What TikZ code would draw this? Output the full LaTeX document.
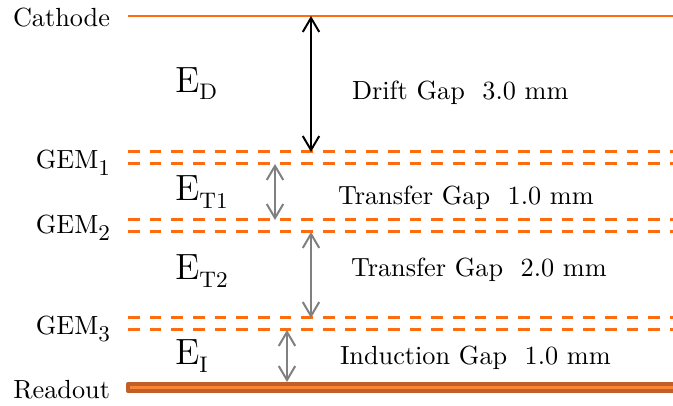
\documentclass[tikz,border=0pt]{standalone}
\usepackage{amsmath}
\usepackage{tikz}
\usetikzlibrary{arrows.meta}

\newcommand{\lowsub}[3]{#1\raisebox{-#3}{\fontsize{9}{10}\selectfont #2}}

\begin{document}
\begin{tikzpicture}[x=0.4pt,y=0.4pt,
  lbl/.style={text=drawColor,anchor=base east,inner sep=0pt,outer sep=0pt,font=\fontsize{10.5}{12}\selectfont},
  gaptext/.style={text=drawColor,anchor=base west,inner sep=0pt,outer sep=0pt,font=\fontsize{10.5}{12}\selectfont},
  field/.style={text=drawColor,anchor=base west,inner sep=0pt,outer sep=0pt,font=\fontsize{14.6}{17}\selectfont},
  gemline/.style={draw=lineColor,line width=1.2pt,dash pattern=on 4.67pt off 4pt},
  gap/.style={line width=0.8pt,{Straight Barb[length=5.6pt,width=6.6pt]}-{Straight Barb[length=5.6pt,width=6.6pt]}}]
\definecolor{fillColor}{RGB}{255,255,255}
\definecolor{drawColor}{RGB}{0,0,0}
\definecolor{lineColor}{RGB}{255,108,16}
\definecolor{barEdge}{RGB}{192,96,40}
\definecolor{barFill}{RGB}{248,132,52}
\definecolor{gapColor}{RGB}{128,128,128}
\path[use as bounding box,fill=fillColor] (0,0) rectangle (673,406);

% electrodes
\path[draw=lineColor,line width=0.9pt] (128,390) -- (673,390);
\path[gemline] (128,254) -- (673,254);
\path[gemline] (128,242) -- (673,242);
\path[gemline] (128,186) -- (673,186);
\path[gemline] (128,174) -- (673,174);
\path[gemline] (128, 88) -- (673, 88);
\path[gemline] (128, 76) -- (673, 76);
\path[draw=barEdge,fill=barFill,line width=1.6pt,line join=round] (128,15) rectangle (690,22);

% electrode labels
\node[lbl] (cathode) at (110,379.3) {Cathode};
\node[lbl] (gem1) at (110,237.7) {\lowsub{GEM}{1}{2.8pt}};
\node[lbl] (gem2) at (110,172.7) {\lowsub{GEM}{2}{2.8pt}};
\node[lbl] (gem3) at (110, 71.0) {\lowsub{GEM}{3}{2.8pt}};
\node[lbl] (readout) at (110,7.7) {Readout};

% fields
\node[field] (eD) at (175,313.7) {\lowsub{E}{D}{2.7pt}};
\node[field] (eT1) at (175,205.0) {\lowsub{E}{T1}{3.2pt}};
\node[field] (eT2) at (175,126.0) {\lowsub{E}{T2}{3.2pt}};
\node[field] (eI) at (175, 41.0) {\lowsub{E}{I}{3pt}};

% gaps
\coordinate (driftTop) at (311,390);
\coordinate (driftBot) at (311,254);
\coordinate (tr1Top) at (275,242);
\coordinate (tr1Bot) at (275,186);
\coordinate (tr2Top) at (311,174);
\coordinate (tr2Bot) at (311, 88);
\coordinate (indTop) at (287, 76);
\coordinate (indBot) at (287, 24);
\path[gap,draw=drawColor] (driftTop) -- (driftBot);
\path[gap,draw=gapColor] (tr1Top) -- (tr1Bot);
\path[gap,draw=gapColor] (tr2Top) -- (tr2Bot);
\path[gap,draw=gapColor] (indTop) -- (indBot);

\node[gaptext] (drift) at (352,306.0) {Drift Gap\ \ 3.0 mm};
\node[gaptext] (transfer1) at (338,201.0) {Transfer Gap\ \ 1.0 mm};
\node[gaptext] (transfer2) at (351,129.3) {Transfer Gap\ \ 2.0 mm};
\node[gaptext] (induction) at (340, 41.0) {Induction Gap\ \ 1.0 mm};
\end{tikzpicture}
\end{document}
